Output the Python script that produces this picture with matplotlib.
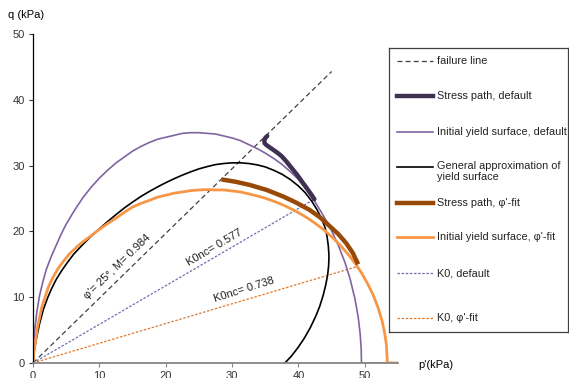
import matplotlib
matplotlib.use("Agg")
import matplotlib.pyplot as plt

plt.rcParams["font.family"] = ["Liberation Sans", "DejaVu Sans"]
plt.rcParams["font.size"] = 7

# ---- data (p', q in kPa) ----
fail_p = [0, 45.0]
fail_q = [0, 44.3]

k0_def_p = [0, 42.4]
k0_def_q = [0, 24.9]

k0_fit_p = [0, 49.0]
k0_fit_q = [0, 14.7]

ys_def_p = [0, 0.1, 0.3, 0.6, 1, 1.5, 2, 2.75, 3.5, 4.25, 5, 6.25, 7.5, 8.75,
            10, 11.25, 12.5, 13.75, 15, 16.25, 17.5, 18.75, 20, 21.25, 22.5,
            23.75, 25, 26.25, 27.5, 28.75, 30, 31.25, 32.5, 33.75, 35, 36.25,
            37.5, 38.75, 40, 41.25, 42.5, 43.75, 45, 46, 47, 47.75, 48.5, 49,
            49.3, 49.45, 49.5, 53.3]
ys_def_q = [0, 3.1, 5.4, 7.9, 10.3, 12.4, 14.2, 16.2, 17.9, 19.6, 21.1, 23.2,
            25.1, 26.7, 28.1, 29.3, 30.4, 31.3, 32.2, 32.9, 33.5, 34.0, 34.3,
            34.6, 34.9, 35.0, 35.0, 34.9, 34.8, 34.5, 34.2, 33.8, 33.2, 32.6,
            31.9, 31.1, 30.2, 29.1, 27.9, 26.3, 24.5, 22.4, 20.1, 17.9, 15.3,
            12.9, 9.8, 7.0, 4.4, 2.2, 0, 0]

ys_fit_p = [0, 0.1, 0.3, 0.65, 1.3, 2.3, 3.0, 3.8, 4.7, 5.6, 7, 8.3, 9.6, 11.25,
            12.5, 13.75, 15, 16.25, 17.5, 18.75, 20, 21.25, 22.5, 23.75, 25,
            26.25, 27.5, 28.75, 30, 31.25, 32.5, 33.75, 35, 36.25, 37.5, 38.75,
            40, 41.25, 42.5, 43.75, 45, 46.25, 47.5, 48.5, 49.5, 50.5, 51.25,
            52, 52.6, 53, 53.25, 53.4, 55]
ys_fit_q = [0, 1.4, 2.8, 5.3, 8.4, 11.5, 13.0, 14.4, 15.6, 16.7, 18.0, 19.0,
            20.0, 21.2, 22.0, 22.9, 23.7, 24.25, 24.7, 25.2, 25.5, 25.8, 26.0,
            26.2, 26.3, 26.35, 26.3, 26.3, 26.15, 26.0, 25.7, 25.4, 25.05, 24.6,
            24.1, 23.5, 22.85, 22.1, 21.25, 20.3, 19.2, 17.95, 16.5, 15.2, 13.7,
            11.9, 10.35, 8.4, 6.4, 4.5, 2.8, 0, 0]

gen_p = [0, 0.15, 0.55, 1.0, 1.55, 2.2, 2.8, 3.5, 4.3, 5.2, 6.1, 7.3, 8.6, 10,
         11.25, 12.5, 13.75, 15, 16.25, 17.5, 18.75, 20, 21.25, 22.5, 23.75,
         25, 26.25, 27.5, 28.75, 30, 31.25, 32.5, 33.75, 35, 36.25, 37.5,
         38.75, 40, 41, 42, 42.8, 43.5, 44, 44.3, 44.5, 44.6, 44.55, 44.4,
         44.1, 43.7, 43.2, 42.6, 41.8, 40.9, 39.9, 38.9, 37.95]
gen_q = [0, 1.7, 3.9, 6.0, 8.1, 9.9, 11.3, 12.7, 14.0, 15.3, 16.5, 17.8, 19.1,
         20.4, 21.5, 22.55, 23.55, 24.45, 25.3, 26.05, 26.75, 27.4, 28.0,
         28.55, 29.05, 29.5, 29.85, 30.15, 30.32, 30.42, 30.42, 30.32, 30.12,
         29.8, 29.3, 28.7, 27.9, 26.9, 25.9, 24.6, 23.3, 21.9, 20.6, 19.3,
         17.8, 16.3, 14.8, 13.4, 11.8, 10.2, 8.6, 7.1, 5.4, 3.8, 2.3, 1.0, 0]

sp_def_p = [35.3, 35.0, 34.85, 34.9, 35.2, 35.7, 36.2, 36.9, 37.5, 38.2, 39.0,
            39.8, 40.5, 41.3, 42.0, 42.4]
sp_def_q = [34.5, 34.2, 33.8, 33.4, 33.1, 32.75, 32.4, 31.9, 31.4, 30.6, 29.6,
            28.6, 27.6, 26.5, 25.5, 24.9]

sp_fit_p = [28.4, 30.5, 32.7, 35.2, 37.7, 39.7, 41.7, 43.3, 44.7, 46.0, 47.2,
            48.2, 49.0]
sp_fit_q = [27.9, 27.55, 27.05, 26.3, 25.3, 24.35, 23.25, 22.1, 20.8, 19.6,
            18.2, 16.7, 15.0]

x_ticks = [0, 10, 20, 30, 40, 50]
y_ticks = [0, 10, 20, 30, 40, 50]

# colours
C_FAIL = "#404040"
C_SP_DEF = "#3f3151"
C_YS_DEF = "#8064a2"
C_GEN = "#000000"
C_SP_FIT = "#984807"
C_YS_FIT = "#f79646"
C_K0_DEF = "#6f6fb0"
C_K0_FIT = "#e07a30"

fig = plt.figure(figsize=(5.69, 3.78), dpi=100)
ax = fig.add_axes([33 / 569, 15 / 378, 365 / 569, 329 / 378])

dash = (0, (4, 2.5))
dots = (0, (2, 1.3))
ax.plot(fail_p, fail_q, color=C_FAIL, lw=0.9, ls=dash)
ax.plot(k0_def_p, k0_def_q, color=C_K0_DEF, lw=0.9, ls=dots)
ax.plot(k0_fit_p, k0_fit_q, color=C_K0_FIT, lw=0.9, ls=dots)
ax.plot(ys_def_p, ys_def_q, color=C_YS_DEF, lw=1.2)
ax.plot(gen_p, gen_q, color=C_GEN, lw=1.2)
ax.plot(ys_fit_p, ys_fit_q, color=C_YS_FIT, lw=2.0)
ax.plot(sp_fit_p, sp_fit_q, color=C_SP_FIT, lw=3.2, solid_capstyle="butt")
ax.plot(sp_def_p, sp_def_q, color=C_SP_DEF, lw=3.2, solid_capstyle="round",
        solid_joinstyle="round")

ax.text(12.7, 14.6, "\u03c6'= 25\u00b0, M= 0.984", rotation=44,
        rotation_mode="anchor", ha="center", va="center", fontsize=8, color="#222222")
ax.text(27.3, 17.55, "K0nc= 0.577", rotation=30.5,
        rotation_mode="anchor", ha="center", va="center", fontsize=8, color="#222222")
ax.text(31.8, 11.1, "K0nc= 0.738", rotation=17.5,
        rotation_mode="anchor", ha="center", va="center", fontsize=8, color="#222222")

ax.set_xlim(0, 55)
ax.set_ylim(0, 50)
ax.set_xticks(x_ticks)
ax.set_yticks(y_ticks)
for s in ["top", "right"]:
    ax.spines[s].set_visible(False)
ax.spines["left"].set_color("#000000")
ax.spines["left"].set_linewidth(0.9)
ax.spines["bottom"].set_color("#868686")
ax.spines["bottom"].set_linewidth(1.3)
ax.tick_params(axis="both", direction="out", length=3, width=0.8,
               labelsize=8, colors="#333333", pad=3)
ax.tick_params(axis="x", color="#868686")
ax.set_facecolor("none")

fig.text(8 / 569, 1 - 15 / 378, "q (kPa)", ha="left", va="center", fontsize=8)
fig.text(418 / 569, 1 - 365 / 378, "p'(kPa)", ha="left", va="center", fontsize=8)

# ---- legend drawn in its own box (pixel coords) ----
lg = fig.add_axes([389 / 569, 1 - 332 / 378, 179 / 569, 284 / 378])
lg.set_xlim(389, 568)
lg.set_ylim(332, 48)
lg.set_xticks([])
lg.set_yticks([])
for s in lg.spines.values():
    s.set_color("#404040")
    s.set_linewidth(0.9)

leg_items = [
    (61, C_FAIL, 0.9, dash, "failure line"),
    (96, C_SP_DEF, 3.2, "-", "Stress path, default"),
    (132, C_YS_DEF, 1.2, "-", "Initial yield surface, default"),
    (167, C_GEN, 1.2, "-", "General approximation of\nyield surface"),
    (203, C_SP_FIT, 3.2, "-", "Stress path, \u03c6'-fit"),
    (237, C_YS_FIT, 2.0, "-", "Initial yield surface, \u03c6'-fit"),
    (273, C_K0_DEF, 0.9, dots, "K0, default"),
    (318, C_K0_FIT, 0.9, dots, "K0, \u03c6'-fit"),
]
for y, c, lw, ls, lab in leg_items:
    lg.plot([397, 433], [y, y], color=c, lw=lw, ls=ls)
    if "\n" in lab:
        lg.text(437, y - 6, lab, ha="left", va="top", fontsize=7.8,
                color="#222222", linespacing=1.15)
    else:
        lg.text(437, y, lab, ha="left", va="center", fontsize=7.8,
                color="#222222")

fig.savefig("out.png", dpi=100)
